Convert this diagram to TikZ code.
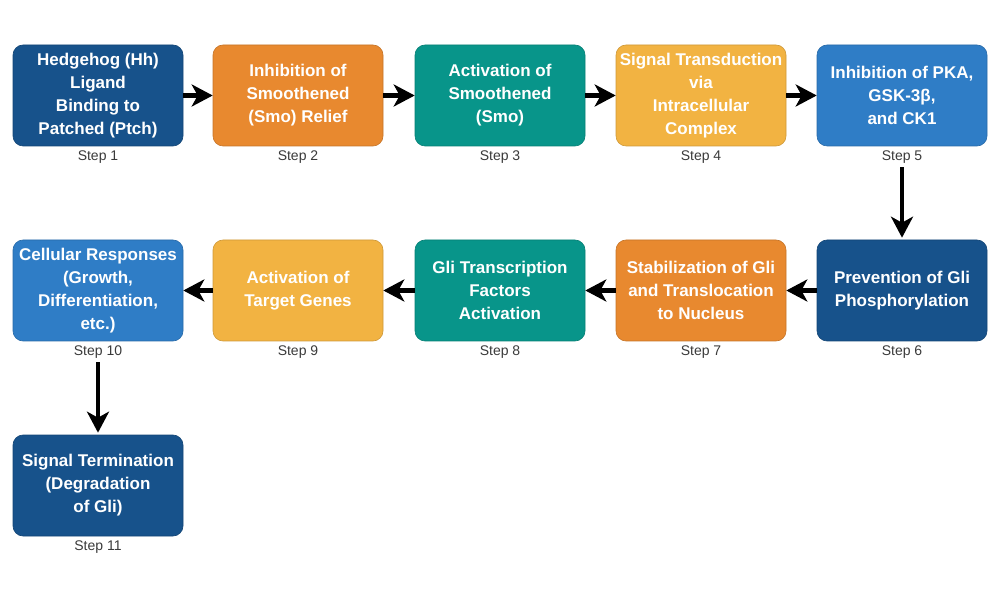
\documentclass[tikz,border=0pt]{standalone}
\usepackage{fontspec}
\setmainfont{Liberation Sans}
\usetikzlibrary{arrows.meta}
\definecolor{cdark}{HTML}{17528B}
\definecolor{corange}{HTML}{E8892F}
\definecolor{cteal}{HTML}{08958A}
\definecolor{cyellow}{HTML}{F2B342}
\definecolor{cmid}{HTML}{2F7DC6}
\definecolor{csteptext}{HTML}{3A3A3A}
\tikzset{
  stepbox/.style={rectangle, rounded corners=10pt, minimum width=170pt, minimum height=101pt,
    inner sep=0pt, align=center, text=white, draw=#1!85!black, line width=0.6pt, fill=#1,
    font=\fontsize{17}{23}\selectfont\bfseries},
  steplabel/.style={font=\fontsize{14}{16}\selectfont, text=csteptext, inner sep=1pt, anchor=north},
  flowarrow/.style={line width=4.5pt, -{Stealth[length=21pt,width=22pt,inset=6pt]}},
}
\begin{document}
\begin{tikzpicture}[x=1pt,y=1pt]
\useasboundingbox (0,0) rectangle (1000,600);
% row 1
\node[stepbox=cdark]   (b1) at (98,504.5)  {Hedgehog (Hh)\\Ligand\\Binding to\\Patched (Ptch)};
\node[stepbox=corange] (b2) at (298,504.5) {Inhibition of\\Smoothened\\(Smo) Relief};
\node[stepbox=cteal]   (b3) at (500,504.5) {Activation of\\Smoothened\\(Smo)};
\node[stepbox=cyellow] (b4) at (701,504.5) {Signal Transduction\\via\\Intracellular\\Complex};
\node[stepbox=cmid]    (b5) at (902,504.5) {Inhibition of PKA,\\GSK-3β,\\and CK1};
% row 2
\node[stepbox=cdark]   (b6) at (902,309.5) {Prevention of Gli\\Phosphorylation};
\node[stepbox=corange] (b7) at (701,309.5) {Stabilization of Gli\\and Translocation\\to Nucleus};
\node[stepbox=cteal]   (b8) at (500,309.5) {Gli Transcription\\Factors\\Activation};
\node[stepbox=cyellow] (b9) at (298,309.5) {Activation of\\Target Genes};
\node[stepbox=cmid]    (b10) at (98,309.5) {Cellular Responses\\(Growth,\\Differentiation,\\etc.)};
% row 3
\node[stepbox=cdark]   (b11) at (98,114.5) {Signal Termination\\(Degradation\\of Gli)};
% step labels
\node[steplabel] (s1) at ([yshift=-3pt]b1.south) {Step 1};
\node[steplabel] (s2) at ([yshift=-3pt]b2.south) {Step 2};
\node[steplabel] (s3) at ([yshift=-3pt]b3.south) {Step 3};
\node[steplabel] (s4) at ([yshift=-3pt]b4.south) {Step 4};
\node[steplabel] (s5) at ([yshift=-3pt]b5.south) {Step 5};
\node[steplabel] (s6) at ([yshift=-3pt]b6.south) {Step 6};
\node[steplabel] (s7) at ([yshift=-3pt]b7.south) {Step 7};
\node[steplabel] (s8) at ([yshift=-3pt]b8.south) {Step 8};
\node[steplabel] (s9) at ([yshift=-3pt]b9.south) {Step 9};
\node[steplabel] (s10) at ([yshift=-3pt]b10.south) {Step 10};
\node[steplabel] (s11) at ([yshift=-3pt]b11.south) {Step 11};
% arrows
\draw[flowarrow] (b1.east) -- (b2.west);
\draw[flowarrow] (b2.east) -- (b3.west);
\draw[flowarrow] (b3.east) -- (b4.west);
\draw[flowarrow] (b4.east) -- (b5.west);
\draw[flowarrow, shorten <=3pt, shorten >=2pt] (s5.south) -- (b6.north);
\draw[flowarrow] (b6.west) -- (b7.east);
\draw[flowarrow] (b7.west) -- (b8.east);
\draw[flowarrow] (b8.west) -- (b9.east);
\draw[flowarrow] (b9.west) -- (b10.east);
\draw[flowarrow, shorten <=3pt, shorten >=2pt] (s10.south) -- (b11.north);
\end{tikzpicture}
\end{document}
